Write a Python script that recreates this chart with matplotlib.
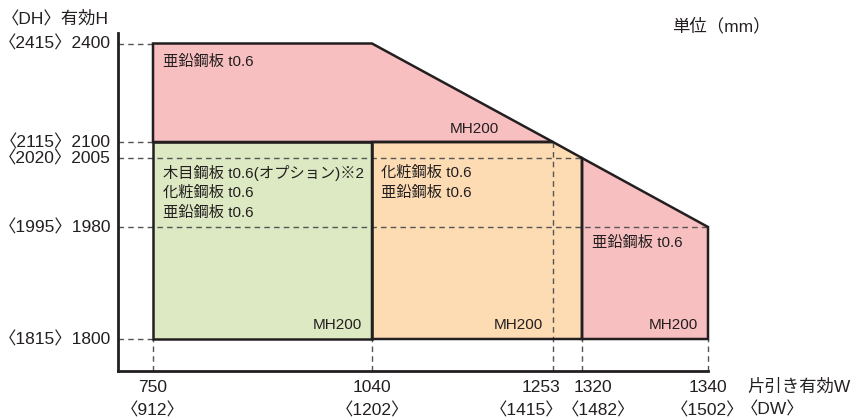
import matplotlib
matplotlib.use("Agg")
import matplotlib.pyplot as plt
import numpy as np
from matplotlib.patches import Polygon

plt.rcParams['font.family'] = ['Liberation Sans', 'Noto Sans CJK JP', 'DejaVu Sans']

# data
w_vals = [750, 1040, 1253, 1320, 1340]        # 片引き有効W
dw_vals = [912, 1202, 1415, 1482, 1502]       # 〈DW〉
h_vals = [1800, 1980, 2005, 2100, 2400]       # 有効H
dh_vals = [1815, 1995, 2020, 2115, 2415]      # 〈DH〉

# regions (W, H) outlines
top_region = [(750, 2100), (750, 2400), (1040, 2400), (1253, 2100)]
left_region = [(750, 1800), (750, 2100), (1040, 2100), (1040, 1800)]
mid_region = [(1040, 1800), (1040, 2100), (1253, 2100), (1320, 2005), (1320, 1800)]
right_region = [(1320, 1800), (1320, 2005), (1340, 1980), (1340, 1800)]

top_lines = ["亜鉛鋼板 t0.6"]
left_lines = ["木目鋼板 t0.6(オプション)※2", "化粧鋼板 t0.6", "亜鉛鋼板 t0.6"]
mid_lines = ["化粧鋼板 t0.6", "亜鉛鋼板 t0.6"]
right_lines = ["亜鉛鋼板 t0.6"]
model = "MH200"

pink = "#f8bfc0"
green = "#dde9c3"
orange = "#fddcb4"
edge = "#231f20"
dash = "#555555"

# non linear axis scales (drawing positions of the break values)
x_pos = np.array([40.0, 153, 372, 553, 582, 708, 1086])
x_dat = np.array([600.0] + w_vals + [1400])
y_pos = np.array([15.8, 78, 190, 259, 275, 373.5, 406])
y_dat = np.array([1700.0] + h_vals + [2500])

def fx(v):
    return np.interp(v, x_dat, x_pos)

def fx_inv(p):
    return np.interp(p, x_pos, x_dat)

def fy(v):
    return np.interp(v, y_dat, y_pos)

def fy_inv(p):
    return np.interp(p, y_pos, y_dat)

W, H = 852, 417
PT = 0.72  # points per pixel at dpi 100
fig = plt.figure(figsize=(W / 100, H / 100), dpi=100)
ax = fig.add_axes([118 / W, (H - 371) / H, (708 - 118) / W, (371 - 33) / H])
ax.set_xscale('function', functions=(fx, fx_inv))
ax.set_yscale('function', functions=(fy, fy_inv))
ax.set_xlim(fx_inv(118), 1340)
ax.set_ylim(fy_inv(46), fy_inv(384))

for s in ['top', 'right']:
    ax.spines[s].set_visible(False)
for s in ['left', 'bottom']:
    ax.spines[s].set_linewidth(2)
    ax.spines[s].set_color(edge)
ax.set_xticks([])
ax.set_yticks([])

x0 = ax.get_xlim()[0]
y0 = ax.get_ylim()[0]

def label(txt, xy, dx, dy, ha='left', size=11):
    # dx, dy in pixels (dy downwards)
    ax.annotate(txt, xy, xytext=(dx * PT, -dy * PT), textcoords='offset points',
                ha=ha, va='center', fontsize=size, color=edge, zorder=4,
                annotation_clip=False)

# fills
for pts, c in [(top_region, pink), (left_region, green), (mid_region, orange), (right_region, pink)]:
    ax.add_patch(Polygon(pts, closed=True, facecolor=c, edgecolor='none', zorder=1))

# dashed guides
dkw = dict(colors=dash, linestyles=(0, (4, 3)), linewidth=1, zorder=2, clip_on=False)
ax.hlines([2400, 2100, 1800], x0, 750, **dkw)
ax.hlines(2005, x0, 1320, **dkw)
ax.hlines(1980, x0, 1340, **dkw)
ax.vlines([750, 1040, 1320, 1340], y0, 1800, **dkw)
ax.vlines(1253, y0, 2100, **dkw)

# outlines
for pts in [top_region, left_region, mid_region, right_region]:
    ax.add_patch(Polygon(pts, closed=True, facecolor='none', edgecolor=edge,
                         linewidth=1.8, joinstyle='miter', zorder=3, clip_on=False))

# region labels
for i, t in enumerate(top_lines):
    label(t, (750, 2400), 10, 18 + 20 * i)
for i, t in enumerate(left_lines):
    label(t, (750, 2005), 10, 15 + 20 * i)
for i, t in enumerate(mid_lines):
    label(t, (1040, 2005), 9, 15 + 20 * i)
for i, t in enumerate(right_lines):
    label(t, (1320, 1980), 10.5, 16 + 20 * i)
label(model, (1253, 2100), -54, -13, ha='right')
for xr in [1040, 1253, 1340]:
    label(model, (xr, 1800), -10, -14, ha='right')

# y labels
for h, dh in zip(h_vals, dh_vals):
    label(f"〈{dh}〉{h}", (x0, h), -7, 0, ha='right', size=12.5)

# x labels
dx1 = [0, 0, -12, 11, 0]
dx2 = [0, 0, -26, 16, 0]
for w, dw, a, b in zip(w_vals, dw_vals, dx1, dx2):
    label(f"{w}", (w, y0), a, 17, ha='center', size=12.5)
    label(f"〈{dw}〉", (w, y0), b, 39, ha='center', size=12.5)

lkw = dict(fontsize=12.5, color=edge, va='center')
fig.text(747 / W, 1 - 387 / H, "片引き有効W", ha='left', **lkw)
fig.text(741 / W, 1 - 409 / H, "〈DW〉", ha='left', **lkw)
fig.text(2 / W, 1 - 18 / H, "〈DH〉有効H", ha='left', **lkw)
fig.text(672 / W, 1 - 26 / H, "単位（mm）", ha='left', **lkw)

fig.savefig("out.png", dpi=100)
